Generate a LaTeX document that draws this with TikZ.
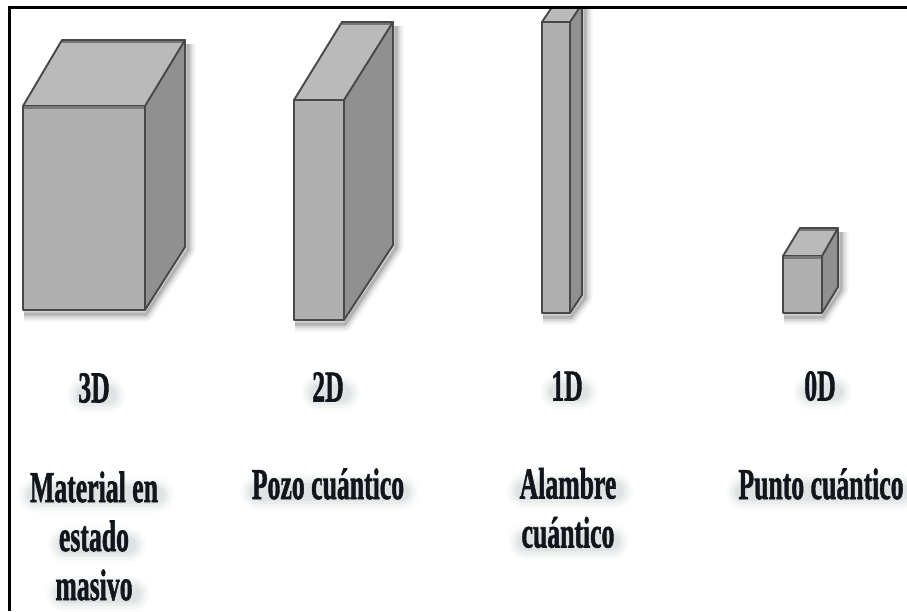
\documentclass[tikz,border=0pt]{standalone}
\usepackage{fontspec}
\setmainfont[BoldFeatures={FakeBold=1.6}]{Liberation Serif}
\definecolor{edgec}{HTML}{484848}
\definecolor{frontc}{HTML}{B0B0B0}
\definecolor{sidec}{HTML}{909090}
\definecolor{topc}{HTML}{BABABA}
\definecolor{inkc}{HTML}{10161C}
\definecolor{haloc}{HTML}{4A5660}
\definecolor{softedge}{HTML}{777777}
\tikzset{
  x=1pt,y=-1pt,
  lbl/.style={font=\bfseries\fontsize{44}{49}\selectfont,align=center,xscale=.585,transform shape,inner sep=0pt,text=inkc},
  face/.style={draw=edgec,line width=1.9pt,line join=round},
  softline/.style={draw=softedge,line width=3.2pt}
}
% front left, front top, front right, front bottom, back right, back top, back bottom, back left
\newcommand\prism[8]{%
  \foreach \w/\o in {15/.04,11/.06,7/.09,3/.14}{
    \draw[black,opacity=\o,line width=\w pt,line join=round]
      (#1+1,#4+4) -- (#3+1,#4+4) -- (#5+3,#7+3) -- (#5+3,#6+4);
  }
  \fill[frontc] (#1,#2) rectangle (#3,#4);
  \fill[sidec] (#3,#2) -- (#5,#6) -- (#5,#7) -- (#3,#4) -- cycle;
  \fill[topc] (#1,#2) -- (#8,#6) -- (#5,#6) -- (#3,#2) -- cycle;
  \draw[softline] (#8,#6+1.5) -- (#5,#6+1.5);
  \draw[face] (#1,#2) rectangle (#3,#4);
  \draw[face] (#1,#2) -- (#8,#6) -- (#5,#6) -- (#3,#2);
  \draw[face] (#5,#6) -- (#5,#7) -- (#3,#4);
}
% soft shadow behind one printed line: left, right, baseline
\newcommand\halo[3]{%
  \foreach \w/\o in {36/.025,30/.035,24/.05,18/.06}{
    \draw[haloc,opacity=\o,line width=\w pt,line cap=round] (#1+6,#3-8) -- (#2-2,#3-8);
  }
}
\begin{document}
\begin{tikzpicture}
\useasboundingbox (0,0) rectangle (907,611);
\fill[white] (0,0) rectangle (907,611);
\prism{23}{106}{145}{310}{185}{40}{247}{62}
\draw[softline] (24,107.5) -- (144,107.5);
\prism{294}{100}{344}{320}{393}{22}{245}{342}
\begin{scope}
\clip (500,7) rectangle (700,340);
\prism{542}{22}{570}{313}{582}{4}{295}{554}
\end{scope}
\prism{783}{256}{822}{313}{838}{228}{287}{800}
\draw[softline] (784,257.5) -- (821,257.5);
\draw[black,line width=3pt] (9,611) -- (9,7) -- (907,7);
\halo{79}{110}{403}\halo{313}{344}{401}\halo{552}{582}{400}\halo{805}{836}{400}
\halo{30}{158}{503}\halo{60}{130}{553}\halo{58}{134}{602}
\halo{252}{403}{500}\halo{518}{617}{499}\halo{520}{613}{550}\halo{738}{903}{500}
\node[lbl] (d3) at (94,388) {3D};
\node[lbl] (d2) at (328,387) {2D};
\node[lbl] (d1) at (567,386) {1D};
\node[lbl] (d0) at (820,386) {0D};
\node[lbl] (mat) at (94,536) {Material en\\estado\\masivo};
\node[lbl] (pozo) at (328,484) {Pozo cuántico};
\node[lbl] (alam) at (568,508) {Alambre\\cuántico};
\node[lbl] (punt) at (821,484) {Punto cuántico};
\end{tikzpicture}
\end{document}
